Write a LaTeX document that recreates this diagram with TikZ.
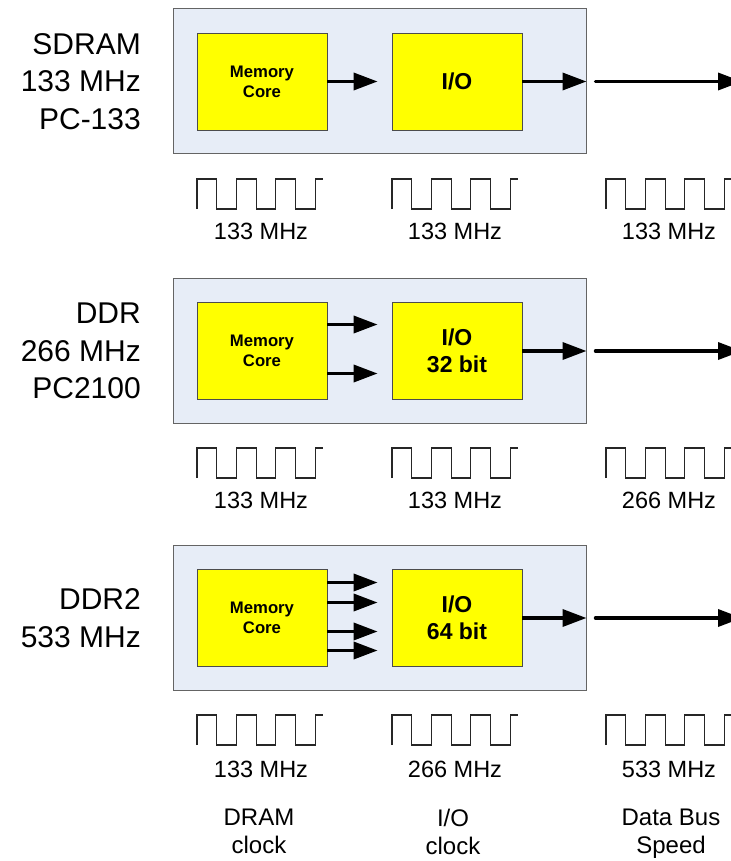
\documentclass[tikz,border=0pt]{standalone}
\usepackage{fontspec}
\setmainfont{Liberation Sans}
\usetikzlibrary{positioning,arrows.meta}

\definecolor{panelblue}{RGB}{231,237,247}
\definecolor{coreyellow}{RGB}{255,255,0}
\definecolor{edgegray}{RGB}{100,100,100}

\begin{document}
\begin{tikzpicture}[
    x=1pt,
    y=-1pt,
    node distance=195pt,
    panel/.style={
        rectangle,
        draw=edgegray,
        fill=panelblue,
        line width=1pt,
        minimum width=413pt,
        minimum height=145pt
    },
    core/.style={
        rectangle,
        draw=black!70,
        fill=coreyellow,
        line width=0.8pt,
        minimum width=130pt,
        minimum height=97pt,
        align=center,
        font=\fontsize{16.7}{20}\selectfont\bfseries
    },
    iobox/.style={
        core,
        font=\fontsize{23}{27}\selectfont\bfseries
    },
    arrow/.style={
        -{Triangle[length=24pt,width=17pt]},
        line width=3.5pt
    },
    feed/.style={
        arrow,
        shorten >=14pt
    },
    wave/.style={
        line width=1.2pt,
        black!85
    },
    clock/.pic={
        \draw [wave] (0,30) -- (0,0) -- (19.7,0) -- (19.7,30) -- (39.4,30) -- (39.4,0)
            -- (59.1,0) -- (59.1,30) -- (78.8,30) -- (78.8,0) -- (98.5,0) -- (98.5,30)
            -- (118.2,30) -- (118.2,0) -- (126,0);
    },
    freq/.style={
        inner sep=0pt,
        font=\fontsize{23.5}{28}\selectfont
    },
    side/.style={
        anchor=east,
        inner sep=0pt,
        align=right,
        font=\fontsize{30}{37.5}\selectfont
    },
    caption/.style={
        anchor=north,
        inner sep=0pt,
        align=center,
        font=\fontsize{24}{28}\selectfont
    }
]
\useasboundingbox (0,0) rectangle (730,861);

% SDRAM
\node [panel] (panel1) at (379.5,81.5) {};
\node [core, left of=panel1, node distance=117.5pt] (core1) {Memory\\Core};
\node [iobox, right of=core1] (io1) {I/O};
\node [side] (name1) at (141,81.5) {SDRAM\\133 MHz\\PC-133};
\coordinate [right of=panel1, node distance=362.5pt] (bus1);

\draw [feed] (core1.east) -- (io1.west);
\draw [arrow] (io1.east) -- (panel1.east);
\draw [arrow, line cap=round] ([xshift=9pt]panel1.east) -- (bus1);

% DDR
\node [panel] (panel2) at (379.5,351) {};
\node [core, left of=panel2, node distance=117.5pt] (core2) {Memory\\Core};
\node [iobox, right of=core2] (io2) {I/O\\32 bit};
\node [side] (name2) at (141,351) {DDR\\266 MHz\\PC2100};
\coordinate [right of=panel2, node distance=362.5pt] (bus2);

\draw [feed] ([yshift=26.5pt]core2.east) -- ([yshift=26.5pt]io2.west);
\draw [feed] ([yshift=-22.5pt]core2.east) -- ([yshift=-22.5pt]io2.west);
\draw [arrow] (io2.east) -- (panel2.east);
\draw [arrow, line cap=round] ([xshift=9pt]panel2.east) -- (bus2);

% DDR2
\node [panel] (panel3) at (379.5,618) {};
\node [core, left of=panel3, node distance=117.5pt] (core3) {Memory\\Core};
\node [iobox, right of=core3] (io3) {I/O\\64 bit};
\node [side] (name3) at (141,618) {DDR2\\533 MHz};
\coordinate [right of=panel3, node distance=362.5pt] (bus3);

\draw [feed] ([yshift=35.5pt]core3.east) -- ([yshift=35.5pt]io3.west);
\draw [feed] ([yshift=15.5pt]core3.east) -- ([yshift=15.5pt]io3.west);
\draw [feed] ([yshift=-13.5pt]core3.east) -- ([yshift=-13.5pt]io3.west);
\draw [feed] ([yshift=-32.5pt]core3.east) -- ([yshift=-32.5pt]io3.west);
\draw [arrow] (io3.east) -- (panel3.east);
\draw [arrow, line cap=round] ([xshift=9pt]panel3.east) -- (bus3);

% Clocks
\pic at (197,179) {clock};
\pic at (392,179) {clock};
\pic at (606,179) {clock};
\node [freq] (f11) at (261,231.5) {133 MHz};
\node [freq] (f12) at (455,231.5) {133 MHz};
\node [freq] (f13) at (669,231.5) {133 MHz};

\pic at (197,448) {clock};
\pic at (392,448) {clock};
\pic at (606,448) {clock};
\node [freq] (f21) at (261,500.5) {133 MHz};
\node [freq] (f22) at (455,500.5) {133 MHz};
\node [freq] (f23) at (669,500.5) {266 MHz};

\pic at (197,715) {clock};
\pic at (392,715) {clock};
\pic at (606,715) {clock};
\node [freq] (f31) at (261,769.5) {133 MHz};
\node [freq] (f32) at (455,769.5) {266 MHz};
\node [freq] (f33) at (669,769.5) {533 MHz};

% Column captions
\node [caption] (cap1) at (259,809) {DRAM\\clock};
\node [caption] (cap2) at (453,809) {I/O\\clock};
\node [caption] (cap3) at (671,809) {Data Bus\\Speed};

\end{tikzpicture}
\end{document}
